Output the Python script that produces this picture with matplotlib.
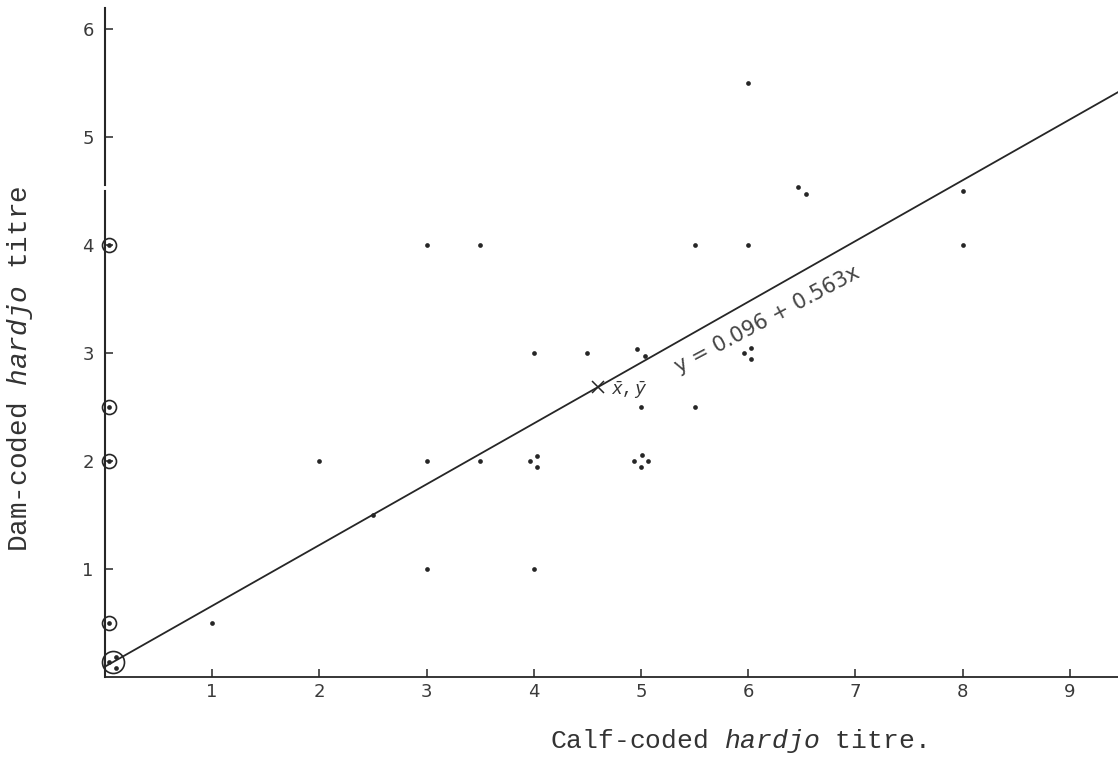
import matplotlib
matplotlib.use("Agg")
import matplotlib.pyplot as plt
from matplotlib.transforms import ScaledTranslation

plt.rcParams["mathtext.fontset"] = "custom"
plt.rcParams["mathtext.rm"] = "Liberation Mono"
plt.rcParams["mathtext.it"] = "Liberation Mono:italic"

# Calf-coded vs dam-coded hardjo titres; n = number of animals at that pair
calf = [1, 2, 2.5, 3, 3, 3, 3.5, 3.5, 4, 4, 4, 4.5, 5, 5, 5, 5.5, 5.5, 6, 6, 6, 6.5, 8, 8]
dam = [0.5, 2, 1.5, 1, 2, 4, 2, 4, 1, 2, 3, 3, 3, 2.5, 2, 2.5, 4, 5.5, 4, 3, 4.5, 4.5, 4]
count = [1, 1, 1, 1, 1, 1, 1, 1, 1, 3, 1, 1, 2, 1, 4, 1, 1, 1, 1, 3, 2, 1, 1]

# Animals with zero calf titre (circled on the axis)
calf_zero = [0, 0, 0, 0, 0]
dam_zero = [0, 0.5, 2, 2.5, 4]
count_zero = [3, 1, 1, 1, 1]

# Regression line y = a + b x and the mean point
intercept = 0.096
slope = 0.563
x_mean = 4.6
y_mean = intercept + slope * x_mean

x_ticks = [1, 2, 3, 4, 5, 6, 7, 8, 9]
y_ticks = [1, 2, 3, 4, 5, 6]

INK = "#262626"
HAND = "DejaVu Sans"

# pixel offsets used to spread coincident points into small clusters
SPREAD = {
    1: [(0, 0)],
    2: [(-4, 4), (4, -3)],
    3: [(-4, 0), (3, 5), (3, -6)],
    4: [(-7, 0), (1, 6), (7, 0), (0, -6)],
}

fig = plt.figure(figsize=(11.18, 7.61), dpi=100)
ax = fig.add_axes([95 / 1118, 84 / 761, 1023 / 1118, 677 / 761])

x_right = 9.45
ax.set_xlim(-0.093, x_right)
ax.set_ylim(0, 6.27)

def shifted(dx, dy):
    return ax.transData + ScaledTranslation(dx / 100, dy / 100, fig.dpi_scale_trans)

def dot_cluster(x, y, n, sx=0, sy=0):
    for dx, dy in SPREAD[n]:
        ax.plot(x, y, "o", ms=3.4, color=INK, mec="none",
                transform=shifted(dx + sx, dy + sy), clip_on=False, zorder=4)

for x, y, n in zip(calf, dam, count):
    dot_cluster(x, y, n)

for x, y, n in zip(calf_zero, dam_zero, count_zero):
    r = 11 if n > 1 else 7
    sx = r - 3
    sy = r + 4 if y == 0 else 0
    dot_cluster(x, y, n, sx, sy)
    ax.plot(x, y, "o", ms=r * 2 * 0.72, mfc="none", mec=INK, mew=1.2,
            transform=shifted(sx, sy), clip_on=False, zorder=4)

# regression line
ax.plot([0, x_right], [intercept, intercept + slope * x_right],
        color=INK, lw=1.3, zorder=3)
ax.plot(x_mean, y_mean, marker="x", ms=8, mew=1.1, color=INK, zorder=5)
ax.text(x_mean + 0.12, y_mean - 0.03, r"$\bar{x},\bar{y}$", fontsize=13,
        color="#333333", ha="left", va="center")
ax.text(6.18, 3.31, "y = 0.096 + 0.563x", fontsize=15, color="#444444",
        family=HAND, rotation=28,
        ha="center", va="center", rotation_mode="anchor")

# axes: broken vertical axis, plain horizontal axis
for s in ["top", "right", "left", "bottom"]:
    ax.spines[s].set_visible(False)
ax.spines["left"].set_position(("data", 0))
ax.plot([0, 0], [0, 4.5], color=INK, lw=1.5, clip_on=False, zorder=2)
ax.plot([0, 0], [4.56, 6.2], color=INK, lw=1.5, clip_on=False, zorder=2)
ax.plot([0, x_right], [0, 0], color=INK, lw=1.3, clip_on=False, zorder=2)

ax.set_xticks(x_ticks)
ax.set_yticks(y_ticks)
ax.set_xticklabels([str(t) for t in x_ticks])
ax.set_yticklabels([str(t) for t in y_ticks])
ax.tick_params(axis="both", direction="in", length=6, width=1.1, color=INK,
               labelsize=13, labelcolor="#3a3a3a")
ax.tick_params(axis="x", pad=4)
ax.tick_params(axis="y", pad=8)
for lab in ax.get_xticklabels() + ax.get_yticklabels():
    lab.set_family(HAND)

fig.text(738 / 1118, 1 - 748 / 761, r"Calf-coded $\mathit{hardjo}$ titre.",
         family="Liberation Mono", fontsize=19, color="#333333",
         ha="center", va="baseline")
fig.text(20 / 1118, 1 - 369 / 761, r"Dam-coded $\mathit{hardjo}$ titre",
         family="Liberation Mono", fontsize=20, color="#333333",
         ha="center", va="center", rotation=90)

fig.savefig("out.png", dpi=100, facecolor="white")
